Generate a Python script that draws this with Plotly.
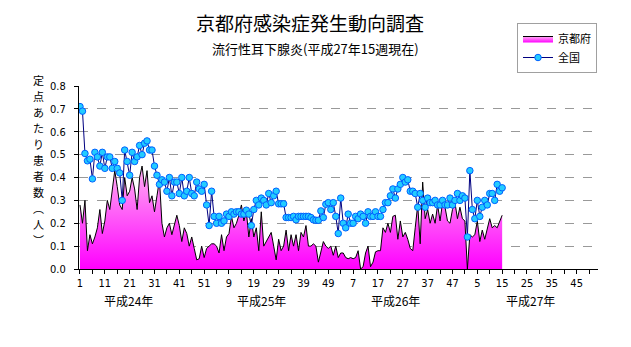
import plotly.graph_objects as go

# ---------------- data ----------------
kyoto = [
    0.28, 0.20, 0.30, 0.08, 0.15, 0.11, 0.14, 0.18, 0.26, 0.155,
    0.21, 0.30, 0.26, 0.36, 0.43, 0.36, 0.28, 0.26, 0.40, 0.32,
    0.34, 0.40, 0.35, 0.26, 0.40, 0.45, 0.36, 0.43, 0.29, 0.32,
    0.25, 0.32, 0.39, 0.20, 0.14, 0.18, 0.20, 0.15, 0.20, 0.235,
    0.19, 0.12, 0.18, 0.155, 0.10, 0.14, 0.09, 0.04, 0.045, 0.10,
    0.05, 0.09, 0.10, 0.11, 0.11, 0.10, 0.07, 0.15, 0.08, 0.14,
    0.155, 0.23, 0.18, 0.20, 0.235, 0.28, 0.21, 0.25, 0.14, 0.22,
    0.14, 0.18, 0.08, 0.25, 0.10, 0.12, 0.14, 0.16, 0.10, 0.04,
    0.13, 0.08, 0.10, 0.17, 0.08, 0.15, 0.10, 0.15, 0.08, 0.16,
    0.14, 0.19, 0.10, 0.10, 0.11, 0.10, 0.03, 0.07, 0.12, 0.10,
    0.09, 0.10, 0.06, 0.10, 0.05, 0.07, 0.07, 0.05, 0.045, 0.05,
    0.045, 0.05, 0.08, 0.0, 0.01, 0.07, 0.10, 0.01, 0.03, 0.075,
    0.08, 0.08, 0.18, 0.16, 0.20, 0.16, 0.23, 0.235, 0.13, 0.21,
    0.14, 0.16, 0.13, 0.09, 0.08, 0.18, 0.28, 0.11, 0.38, 0.22,
    0.26, 0.20, 0.24, 0.20, 0.28, 0.21, 0.29, 0.27, 0.21, 0.20,
    0.26, 0.29, 0.22, 0.27, 0.22, 0.21, 0.0, 0.15, 0.14, 0.15,
    0.21, 0.12, 0.17, 0.13, 0.18, 0.22, 0.18, 0.19, 0.18, 0.21,
    0.235,
]

national = [
    0.71, 0.69, 0.505, 0.473, 0.48, 0.394, 0.51, 0.49, 0.45, 0.51,
    0.44, 0.49, 0.49, 0.44, 0.47, 0.44, 0.42, 0.30, 0.52, 0.47,
    0.41, 0.51, 0.47, 0.49, 0.54, 0.50, 0.55, 0.56, 0.52, 0.52,
    0.45, 0.41, 0.37, 0.39, 0.38, 0.34, 0.40, 0.32, 0.38, 0.38,
    0.33, 0.40, 0.32, 0.34, 0.40, 0.33, 0.32, 0.38, 0.35, 0.34,
    0.37, 0.28, 0.19, 0.34, 0.23, 0.20, 0.23, 0.20, 0.21, 0.24,
    0.23, 0.25, 0.24, 0.25, 0.25, 0.24, 0.24, 0.257, 0.24, 0.19,
    0.26, 0.30, 0.28, 0.31, 0.30, 0.28, 0.33, 0.29, 0.32, 0.34,
    0.285, 0.285, 0.285, 0.225, 0.225, 0.225, 0.23, 0.215, 0.23, 0.23,
    0.23, 0.23, 0.23, 0.225, 0.215, 0.213, 0.213, 0.254, 0.225, 0.283,
    0.29, 0.26, 0.29, 0.23, 0.155, 0.31, 0.20, 0.18, 0.24, 0.20,
    0.20, 0.23, 0.22, 0.24, 0.23, 0.20, 0.25, 0.23, 0.23, 0.25,
    0.23, 0.23, 0.26, 0.29, 0.29, 0.32, 0.35, 0.31, 0.35, 0.37,
    0.40, 0.38, 0.39, 0.34, 0.34, 0.33, 0.27, 0.33, 0.30, 0.27,
    0.31, 0.29, 0.29, 0.30, 0.28, 0.28, 0.30, 0.28, 0.28, 0.31,
    0.28, 0.30, 0.33, 0.30, 0.32, 0.31, 0.14, 0.43, 0.26, 0.22,
    0.30, 0.23, 0.27, 0.30, 0.28, 0.33, 0.33, 0.30, 0.37, 0.34,
    0.355,
]

weeks = list(range(1, len(kyoto) + 1))  # consecutive week index from 平成24年第1週

tick_labels = ["1", "11", "21", "31", "41", "51", "9", "19", "29", "39", "49",
               "7", "17", "27", "37", "47", "5", "15", "25", "35", "45"]
year_labels = ["平成24年", "平成25年", "平成26年", "平成27年"]
series_names = ["京都府", "全国"]
title_text = "京都府感染症発生動向調査"
subtitle_text = "流行性耳下腺炎(平成27年15週現在)"
ylabel_chars = ["定", "点", "あ", "た", "り", "患", "者", "数", "︵", "人", "︶"]

# ---------------- layout helpers ----------------
W, H = 631, 347
L, T, PW, PH = 79, 86, 519, 183


def px2paper(x, y):
    return (x - L) / PW, (T + PH - y) / PH


CJK = "Noto Sans CJK JP, sans-serif"
NARROW = "Liberation Sans Narrow, DejaVu Sans Condensed, Arial Narrow, sans-serif"

# tick positions every 5 weeks, labelled every 10
tickvals = list(range(1, 210, 5))
ticktext = []
k = 0
for p in tickvals:
    if (p - 1) % 10 == 0 and k < len(tick_labels):
        ticktext.append(tick_labels[k])
        k += 1
    else:
        ticktext.append("")

fig = go.Figure()
fig.add_trace(go.Scatter(
    x=weeks, y=kyoto, name=series_names[0], mode="lines",
    line=dict(color="black", width=1),
    fill="tozeroy",
    fillgradient=dict(type="vertical",
                      colorscale=[[0, "#ff00ff"], [1, "#ffb0f2"]],
                      start=0, stop=0.45),
))
fig.add_trace(go.Scatter(
    x=weeks, y=national, name=series_names[1], mode="lines+markers",
    line=dict(color="#000080", width=1),
    marker=dict(size=6.5, color="#22ccff", line=dict(color="#0060ff", width=1)),
))

annotations = []
tx, ty = px2paper(310, 22)
annotations.append(dict(x=tx, y=ty, xref="paper", yref="paper", text=title_text,
                        showarrow=False, font=dict(family=CJK, size=19, color="black"),
                        xanchor="center", yanchor="middle"))
sx, sy = px2paper(315, 48)
annotations.append(dict(x=sx, y=sy, xref="paper", yref="paper", text=subtitle_text,
                        showarrow=False, font=dict(family=CJK, size=13, color="black"),
                        xanchor="center", yanchor="middle"))

year_pos = [20.5, 74.2, 128.2, 182.5]
for lab, xp in zip(year_labels, year_pos):
    _, yy = px2paper(0, 300)
    annotations.append(dict(x=xp, y=yy, xref="x", yref="paper", text=lab,
                            showarrow=False, font=dict(family=CJK, size=12, color="black"),
                            xanchor="center", yanchor="middle"))

# vertical (upright) axis title, one character per line
n = len(ylabel_chars)
step = 16.0
for i, ch in enumerate(ylabel_chars):
    cy = 160 + (i - (n - 1) / 2) * step
    cx, cyp = px2paper(38, cy)
    annotations.append(dict(x=cx, y=cyp, xref="paper", yref="paper", text=ch,
                            showarrow=False, font=dict(family=CJK, size=11, color="black"),
                            xanchor="center", yanchor="middle", borderpad=0))

fig.update_layout(
    width=W, height=H,
    margin=dict(l=L, r=W - L - PW, t=T, b=H - T - PH, pad=0, autoexpand=False),
    paper_bgcolor="white", plot_bgcolor="white",
    showlegend=True,
    legend=dict(x=517 / W, y=1 - 23 / H, xref="container", yref="container",
                xanchor="left", yanchor="top",
                bordercolor="#a0a0a0", borderwidth=1, bgcolor="white",
                font=dict(family=CJK, size=11, color="black"),
                tracegroupgap=0, itemwidth=30),
    annotations=annotations,
    xaxis=dict(range=[0.6, 209.6], tickmode="array", tickvals=tickvals, ticktext=ticktext,
               ticks="outside", ticklen=4, tickcolor="black", showline=True,
               linecolor="black", linewidth=1, showgrid=False, zeroline=False,
               tickfont=dict(family=NARROW, size=11, color="black"), tickangle=0),
    yaxis=dict(range=[0, 0.8], dtick=0.1, tick0=0, tickformat=".1f",
               ticks="outside", ticklen=4, tickcolor="black", showline=True,
               linecolor="black", linewidth=1, showgrid=True, gridcolor="#999999",
               griddash="dash", gridwidth=1, zeroline=False,
               tickfont=dict(family=NARROW, size=11, color="black"),
               ticklabelstandoff=6),
)

fig.write_html("out.html")
